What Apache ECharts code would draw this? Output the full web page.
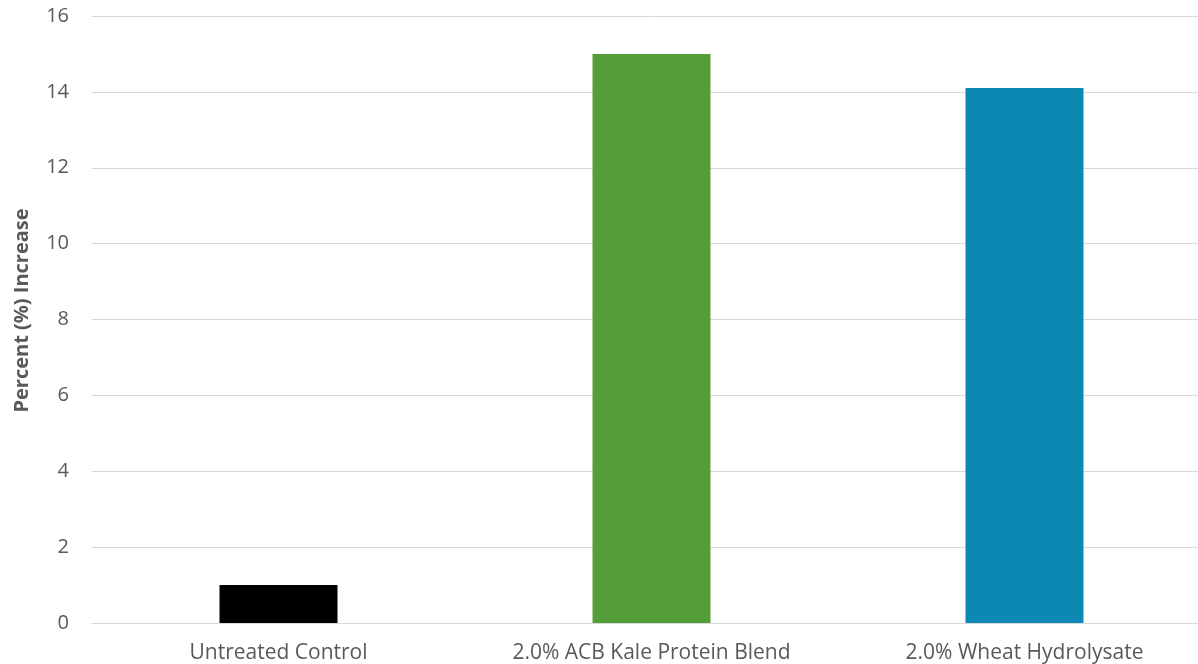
<!DOCTYPE html>
<html>
<head>
<meta charset="utf-8">
<script src="https://cdn.jsdelivr.net/npm/echarts@6/dist/echarts.min.js"></script>
<style>
  html, body { margin: 0; padding: 0; background: #ffffff; overflow: hidden; }
  body { width: 1198px; height: 664px; }
  #chart { width: 1211px; height: 664px; }
</style>
</head>
<body>
<div id="chart"></div>
<script>
// Treatments and measured increase
const categories = ['Untreated Control', '2.0% ACB Kale Protein Blend', '2.0% Wheat Hydrolysate'];
const increaseValues = [1.0, 15.0, 14.1];
const barColors = ['#000000', '#549E39', '#0B89B3'];
const yTicks = { min: 0, max: 16, interval: 2 };
const yTitle = 'Percent (%) Increase';

const chart = echarts.init(document.getElementById('chart'), null, { renderer: 'canvas' });

chart.setOption({
  animation: false,
  backgroundColor: '#ffffff',
  textStyle: { fontFamily: 'Open Sans' },
  // the plot area runs slightly past the right edge of the visible page
  grid: { left: 92, top: 16, bottom: 40, right: 0, containLabel: false },
  xAxis: {
    type: 'category',
    data: categories,
    axisLine: { show: true, lineStyle: { color: '#D9D9D9', width: 1 } },
    axisTick: { show: false },
    axisLabel: { color: '#595959', fontSize: 21, fontFamily: 'Open Sans', margin: 20, interval: 0 }
  },
  yAxis: {
    type: 'value',
    min: yTicks.min,
    max: yTicks.max,
    interval: yTicks.interval,
    name: yTitle,
    nameLocation: 'middle',
    nameGap: 60,
    nameTextStyle: { color: '#595959', fontSize: 20, fontWeight: 'bold', fontFamily: 'Open Sans', padding: [0, 0, 0, 18] },
    axisLine: { show: false },
    axisTick: { show: false },
    axisLabel: { color: '#595959', fontSize: 20, fontFamily: 'Open Sans', margin: 23 },
    splitLine: { lineStyle: { color: '#D9D9D9', width: 1 } }
  },
  series: [{
    type: 'bar',
    data: increaseValues.map((v, i) => ({ value: v, itemStyle: { color: barColors[i] } })),
    barWidth: 118
  }]
});
</script>
</body>
</html>
